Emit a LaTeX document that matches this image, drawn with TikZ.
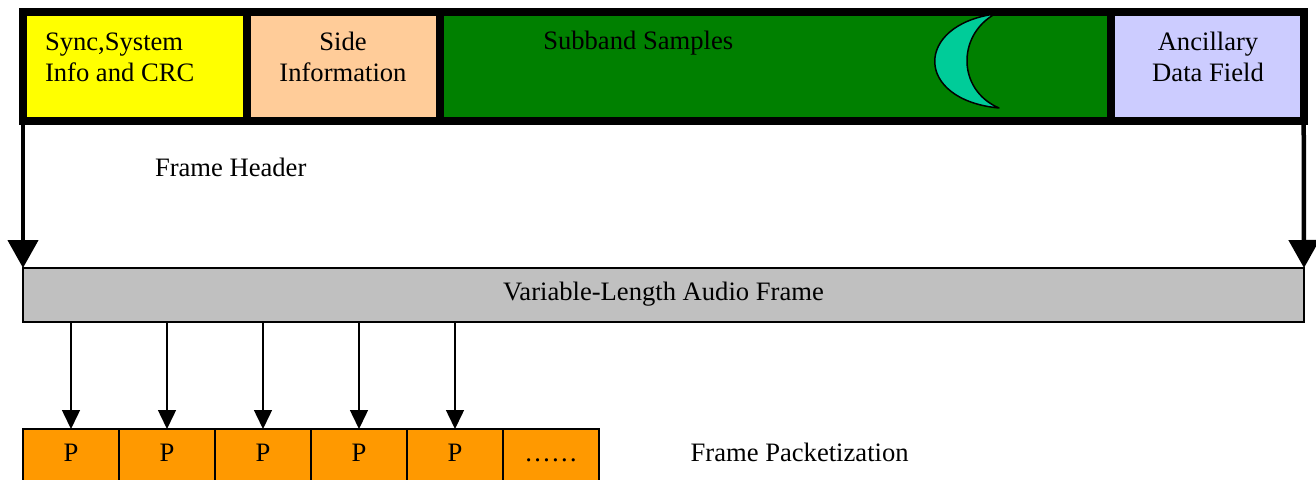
\documentclass[tikz,border=0pt]{standalone}
\usepackage{fontspec}
\setmainfont{Liberation Serif}
\usetikzlibrary{arrows.meta}

\definecolor{syncyellow}{HTML}{FFFF00}
\definecolor{sidepeach}{HTML}{FFCC99}
\definecolor{subgreen}{HTML}{008000}
\definecolor{anclav}{HTML}{CCCCFF}
\definecolor{framegray}{HTML}{C0C0C0}
\definecolor{pktorange}{HTML}{FF9900}
\definecolor{moonteal}{HTML}{00CC99}

\newcommand{\lines}[3]{\begin{tabular}[t]{@{}#1@{}}#2\\#3\end{tabular}}

\begin{document}
\begin{tikzpicture}[x=1pt, y=-1pt,
  every node/.style={font=\fontsize{26.6}{31}\selectfont, inner sep=0pt, outer sep=0pt},
  cell/.style={draw=black, line width=8pt, anchor=north west,
    minimum height=108.5pt},
  lbl/.style={anchor=base west},
  clbl/.style={anchor=base},
  bigarrow/.style={line width=4.5pt, -{Triangle[width=30pt,length=28pt]}},
  smallarrow/.style={line width=1.5pt, -{Triangle[width=18pt,length=19pt]}},
  pbox/.style={draw=black, line width=1.5pt, fill=pktorange, anchor=north west,
    minimum width=96pt, minimum height=53pt, text height=17.7pt, text depth=5.4pt},
  audiobar/.style={draw=black, line width=1.5pt, fill=framegray, anchor=north west,
    minimum width=1281pt, minimum height=54pt, text height=17.7pt, text depth=5.9pt}
  ]
\useasboundingbox (0,0) rectangle (1316,479);
\clip (0,0) rectangle (1316,479);

% frame fields
\node[cell, fill=syncyellow, minimum width=223.7pt] (sync) at (23,12) {};
\node[cell, fill=sidepeach,  minimum width=192.8pt] (side) at (246.7,12) {};
\node[cell, fill=subgreen,   minimum width=671.8pt] (sub)  at (439.5,12) {};
\node[cell, fill=anclav,     minimum width=192.4pt] (anc)  at (1111.3,12) {};

% crescent moon in the subband field
\draw[line width=1.5pt, fill=moonteal, line join=round]
  (995,14) .. controls (914,25) and (914,100) .. (999,108)
           .. controls (957,90) and (957,35) .. (995,14);

% field labels
\node[lbl]  (synctxt) at (45,50.5)    {\lines{l}{Sync,System}{Info and CRC}};
\node[clbl] (sidetxt) at (343,50.5)   {\lines{c}{Side}{Information}};
\node[lbl]  (subtxt)  at (543.3,49.5) {Subband Samples};
\node[clbl] (anctxt)  at (1208,50.5)  {\lines{c}{Ancillary}{Data Field}};
\node[lbl]  (hdrtxt)  at (155,176)    {Frame Header};

% variable-length audio frame
\node[audiobar] (audio) at (23,268) {Variable-Length Audio Frame};

\draw[bigarrow] (sync.south west) -- (audio.north west);
\draw[bigarrow] (anc.south east) -- (audio.north east);

% packets
\node[pbox] (p1) at (23,429)  {P};
\node[pbox] (p2) at (119,429) {P};
\node[pbox] (p3) at (215,429) {P};
\node[pbox] (p4) at (311,429) {P};
\node[pbox] (p5) at (407,429) {P};
\node[pbox] (p6) at (503,429) {……};

\foreach \p in {p1,p2,p3,p4,p5}
  \draw[smallarrow] (\p.north |- audio.south) -- (\p.north);

\node[lbl] (pkttxt) at (690.7,461.7) {Frame Packetization};
\end{tikzpicture}
\end{document}
